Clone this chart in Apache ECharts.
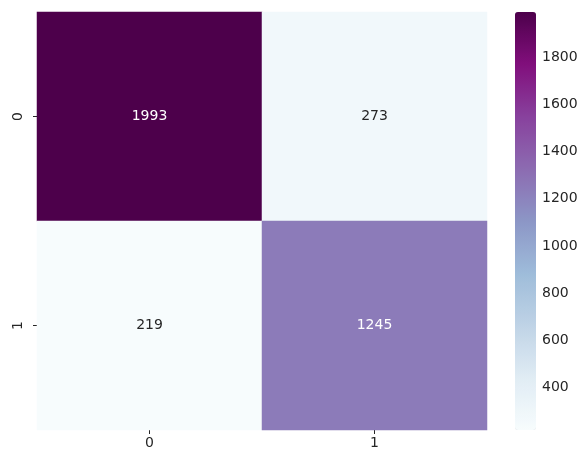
<!DOCTYPE html>
<html>
<head>
<meta charset="utf-8">
<script src="https://cdn.jsdelivr.net/npm/echarts@6/dist/echarts.min.js"></script>
<style>
  html, body { margin: 0; padding: 0; background: #fff; }
  #chart { width: 588px; height: 455px; }
</style>
</head>
<body>
<div id="chart"></div>
<script>
// Confusion matrix: rows are true classes, columns are predicted classes
const xCategories = ['0', '1'];
const yCategories = ['0', '1'];
const row0 = [1993, 273];
const row1 = [219, 1245];
const colorbarTicks = [400, 600, 800, 1000, 1200, 1400, 1600, 1800];

// BuPu sequential palette
const buPu = ['#f7fcfd', '#e0ecf4', '#bfd3e6', '#9ebcda', '#8c96c6', '#8c6bb1', '#88419d', '#810f7c', '#4d004b'];

const rows = [row0, row1];
const allValues = row0.concat(row1);
const vMin = Math.min(...allValues);
const vMax = Math.max(...allValues);
const mid = (vMin + vMax) / 2;

const cells = [];
rows.forEach((row, yi) => {
  row.forEach((v, xi) => {
    cells.push({
      value: [xi, yi, v],
      label: { color: v > mid * 0.9 ? '#ffffff' : '#262626' }
    });
  });
});

const font = 'DejaVu Sans';
const chart = echarts.init(document.getElementById('chart'), null, { renderer: 'canvas' });

chart.setOption({
  animation: false,
  backgroundColor: '#ffffff',
  grid: [
    { left: 37, top: 12, width: 450, height: 418 },
    { left: 515, top: 12, width: 21, height: 418 }
  ],
  xAxis: [
    {
      type: 'category', gridIndex: 0, data: xCategories,
      axisLine: { show: false },
      axisTick: { show: true, alignWithLabel: true, length: 4, lineStyle: { color: '#262626', width: 1 } },
      axisLabel: { fontFamily: font, fontSize: 14, color: '#262626', margin: 6 },
      splitLine: { show: false }
    },
    {
      type: 'value', gridIndex: 1, show: false, min: 0, max: 1
    }
  ],
  yAxis: [
    {
      type: 'category', gridIndex: 0, data: yCategories, inverse: true,
      axisLine: { show: false },
      axisTick: { show: true, alignWithLabel: true, length: 4, lineStyle: { color: '#262626', width: 1 } },
      axisLabel: { fontFamily: font, fontSize: 14, color: '#262626', rotate: 90, margin: 12 },
      splitLine: { show: false }
    },
    {
      type: 'value', gridIndex: 1, position: 'right', min: vMin, max: vMax,
      axisLine: { show: false },
      axisTick: { show: true, length: 4, customValues: colorbarTicks, lineStyle: { color: '#262626', width: 1 } },
      axisLabel: {
        fontFamily: font, fontSize: 14, color: '#262626', margin: 6,
        customValues: colorbarTicks,
        formatter: (v) => String(v)
      },
      splitLine: { show: false }
    }
  ],
  visualMap: {
    type: 'continuous',
    min: vMin,
    max: vMax,
    seriesIndex: 0,
    calculable: false,
    hoverLink: false,
    orient: 'vertical',
    left: 515,
    top: 12,
    padding: 0,
    itemWidth: 21,
    itemHeight: 418,
    text: null,
    showLabel: false,
    inRange: { color: buPu },
    textStyle: { color: 'transparent' }
  },
  series: [
    {
      type: 'heatmap',
      xAxisIndex: 0,
      yAxisIndex: 0,
      data: cells,
      label: { show: true, fontFamily: font, fontSize: 14 },
      itemStyle: { borderWidth: 0 },
      emphasis: { disabled: true }
    }
  ]
});
</script>
</body>
</html>
